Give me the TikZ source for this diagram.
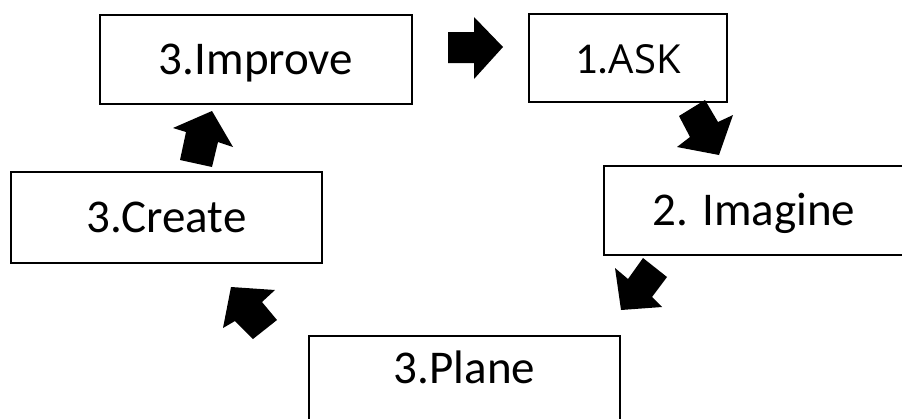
\documentclass[tikz,border=0pt]{standalone}
\usepackage{fontspec}
\setmainfont{Carlito}
\newfontfamily\askfont{Open Sans}
\begin{document}
\begin{tikzpicture}[x=1pt,y=-1pt,
  stepbox/.style={draw=black, line width=1.5pt, rectangle, inner sep=0pt,
    text height=30pt, text depth=0pt, font=\fontsize{47}{56}\selectfont},
  blockarrow/.style={fill=black, draw=none}]
\useasboundingbox (0,0) rectangle (902,418);
\clip (0,0) rectangle (902,418);
\fill[white] (0,0) rectangle (902,418);

\node[stepbox, minimum width=312pt, minimum height=89pt] (improve) at (256,59.5) {3.Improve};
\node[stepbox, minimum width=198pt, minimum height=88pt] (ask) at (628,58)
  {\fontsize{44}{52}\selectfont 1.\askfont\fontsize{40}{48}\selectfont ASK};
\node[stepbox, minimum width=300pt, minimum height=89pt] (imagine) at (754,210.5) {2. Imagine};
\node[stepbox, minimum width=311pt, minimum height=91pt] (create) at (166.5,217.5) {3.Create};
\node[stepbox, minimum width=311pt, minimum height=94pt, text depth=30pt] (plane) at (464.5,383) {3.Plane};

% block arrows
\fill[blockarrow] (448,32) -- (474,32) -- (474,17) -- (503,47) -- (474,79) -- (474,63) -- (448,63) -- cycle;
\fill[blockarrow] (679,116) -- (705,100) -- (718,122) -- (733,115) -- (719,155) -- (677,147) -- (690,137) -- cycle;
\fill[blockarrow] (643,258) -- (667,277) -- (652,297) -- (662,307) -- (621,310) -- (615,268) -- (628,279) -- cycle;
\fill[blockarrow] (231,287) -- (275,290) -- (262,302) -- (277,320) -- (253,339) -- (235,321) -- (223,328) -- cycle;
\fill[blockarrow] (212,111) -- (233,147) -- (218,142) -- (212,167) -- (180,160) -- (186,132) -- (173,128) -- cycle;
\end{tikzpicture}
\end{document}
